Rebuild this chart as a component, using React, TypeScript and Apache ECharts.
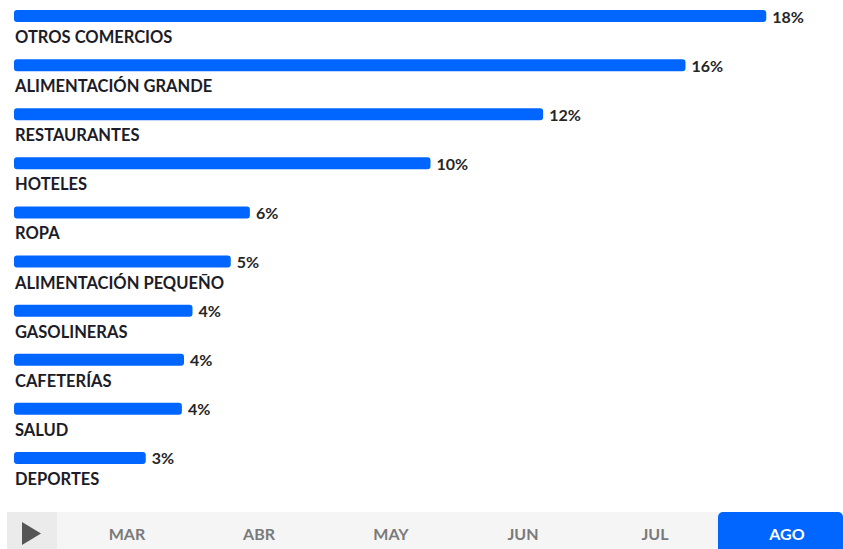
import React, { useEffect, useRef } from "react";
import * as echarts from "echarts";

const categories = [
  "OTROS COMERCIOS",
  "ALIMENTACIÓN GRANDE",
  "RESTAURANTES",
  "HOTELES",
  "ROPA",
  "ALIMENTACIÓN PEQUEÑO",
  "GASOLINERAS",
  "CAFETERÍAS",
  "SALUD",
  "DEPORTES",
];
const values = [17.7, 15.8, 12.45, 9.8, 5.55, 5.1, 4.2, 4.0, 3.95, 3.1];
const months = ["MAR", "ABR", "MAY", "JUN", "JUL", "AGO"];
const activeMonth = "AGO";

const FONT = "Lato";

export default function App() {
  const ref = useRef<HTMLDivElement>(null);
  useEffect(() => {
    document.body.style.margin = "0";
    if (!ref.current) return;
    const chart = echarts.init(ref.current, undefined, { renderer: "svg" });

    const monthGraphics: any[] = [];
    months.forEach((m, i) => {
      const cx = 127 + i * 132;
      const active = m === activeMonth;
      if (active) {
        monthGraphics.push({
          type: "rect",
          shape: { x: 718, y: 512, width: 125, height: 37, r: [5, 5, 0, 0] },
          style: { fill: "#0066FF" },
          z: 1,
        });
      }
      monthGraphics.push({
        type: "text",
        x: cx,
        y: 533,
        style: {
          text: m,
          fill: active ? "#ffffff" : "#7a7a7a",
          font: `bold 16px ${FONT}`,
          textAlign: "center",
          textVerticalAlign: "middle",
        },
        z: 2,
      });
    });

    chart.setOption({
      animation: false,
      grid: { left: 14, top: 0, width: 807.5, height: 491, containLabel: false },
      xAxis: { type: "value", min: 0, max: 19, show: false },
      yAxis: {
        type: "category",
        inverse: true,
        data: categories,
        axisLine: { show: false },
        axisTick: { show: false },
        splitLine: { show: false },
        z: 5,
        axisLabel: {
          inside: true,
          margin: 1,
          color: "#1c1c28",
          fontFamily: FONT,
          fontWeight: "bold",
          fontSize: 16.5,
          verticalAlign: "top",
          lineHeight: 25,
        },
      },
      series: [
        {
          type: "bar",
          data: values,
          barWidth: 12,
          barGap: "41.67%",
          itemStyle: { color: "#0066FF", borderRadius: 3 },
          label: {
            show: true,
            position: "right",
            distance: 6,
            formatter: (p: any) => `${Math.round(p.value)}%`,
            color: "#262626",
            fontFamily: FONT,
            fontWeight: "bold",
            fontSize: 16,
          },
        },
        {
          type: "bar",
          data: values.map(() => null),
          barWidth: 12,
          barGap: "41.67%",
          itemStyle: { color: "transparent" },
          silent: true,
        },
      ],
      graphic: [
        {
          type: "rect",
          shape: { x: 7, y: 512, width: 836, height: 37 },
          style: { fill: "#f5f5f5" },
          z: 0,
        },
        {
          type: "rect",
          shape: { x: 7, y: 512, width: 50, height: 37 },
          style: { fill: "#ebebeb" },
          z: 0,
        },
        {
          type: "polygon",
          shape: { points: [[22, 522], [22, 545], [41, 533.5]] },
          style: { fill: "#555555" },
          z: 1,
        },
        ...monthGraphics,
      ],
    });
    return () => chart.dispose();
  }, []);
  return <div ref={ref} style={{ width: 843, height: 549 }} />;
}
